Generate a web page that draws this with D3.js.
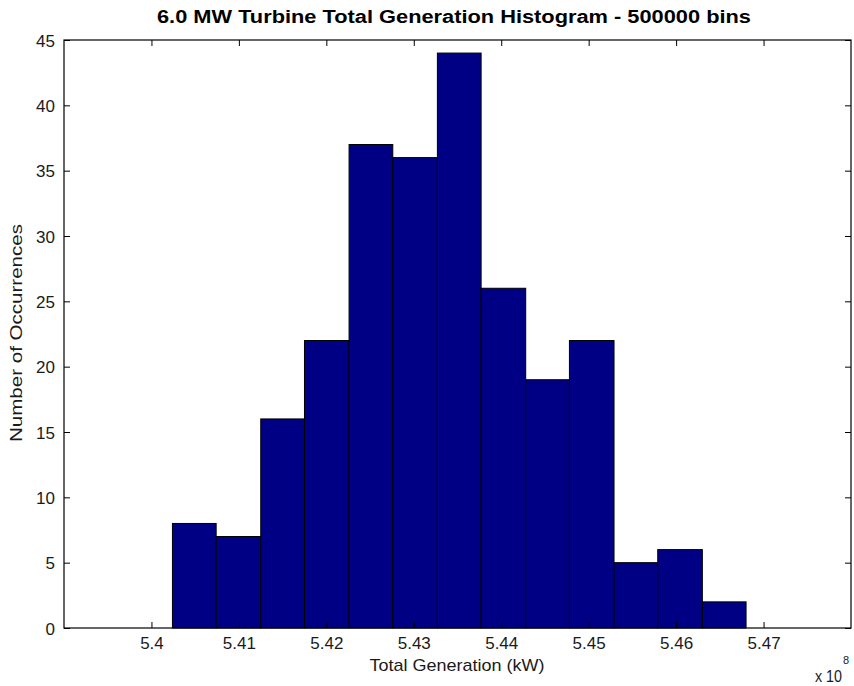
<!DOCTYPE html>
<html><head><meta charset="utf-8">
<script src="https://cdn.jsdelivr.net/npm/d3@7"></script>
<style>body{margin:0;background:#fff}svg{display:block}text{font-family:"Liberation Sans",Arial,sans-serif}</style>
</head><body>
<script>
const binEdges = [5.4024e8, 5.4074e8, 5.4125e8, 5.4175e8, 5.4226e8, 5.4276e8, 5.4327e8, 5.4377e8, 5.4428e8, 5.4478e8, 5.4529e8, 5.4579e8, 5.4630e8, 5.4680e8];
const counts = [8, 7, 16, 22, 37, 36, 44, 26, 19, 22, 5, 6, 2];
const xTicks = [5.40e8, 5.41e8, 5.42e8, 5.43e8, 5.44e8, 5.45e8, 5.46e8, 5.47e8];
const yTicks = [0, 5, 10, 15, 20, 25, 30, 35, 40, 45];
const titleText = "6.0 MW Turbine Total Generation Histogram - 500000 bins";
const xLabel = "Total Generation (kW)";
const yLabel = "Number of Occurrences";

const W = 854, H = 686;
const m = {left: 64, right: 3, top: 40, bottom: 58};
const svg = d3.select("body").append("svg").attr("width", W).attr("height", H);
const x = d3.scaleLinear().domain([5.39e8, 5.48e8]).range([m.left, W - m.right]);
const y = d3.scaleLinear().domain([0, 45]).range([H - m.bottom, m.top]);

const bins = counts.map((c, i) => ({x0: binEdges[i], x1: binEdges[i + 1], c}));
svg.append("g").selectAll("rect").data(bins).join("rect")
  .attr("x", d => x(d.x0)).attr("width", d => x(d.x1) - x(d.x0))
  .attr("y", d => y(d.c)).attr("height", d => y(0) - y(d.c))
  .attr("fill", "#000085").attr("stroke", "#000").attr("stroke-width", 1);

const fmtX = d => String(+(d / 1e8).toFixed(2));
const tl = 6;
const gx = svg.append("g").attr("transform", `translate(0,${y(0)})`)
  .call(d3.axisBottom(x).tickValues(xTicks).tickFormat(fmtX).tickSizeInner(-tl).tickSizeOuter(0));
const gxt = svg.append("g").attr("transform", `translate(0,${y(45)})`)
  .call(d3.axisTop(x).tickValues(xTicks).tickFormat("").tickSizeInner(-tl).tickSizeOuter(0));
const gy = svg.append("g").attr("transform", `translate(${x(5.39e8)},0)`)
  .call(d3.axisLeft(y).tickValues(yTicks).tickSizeInner(-tl).tickSizeOuter(0).tickPadding(9));
const gyr = svg.append("g").attr("transform", `translate(${x(5.48e8)},0)`)
  .call(d3.axisRight(y).tickValues(yTicks).tickFormat("").tickSizeInner(-tl).tickSizeOuter(0));
[gx, gxt, gy, gyr].forEach(g => {
  g.select(".domain").remove();
  g.selectAll("line").attr("stroke", "#000");
  g.selectAll("text").attr("font-size", 17).attr("fill", "#1a1a1a").attr("font-family", '"Liberation Sans",Arial,sans-serif');
});
gx.selectAll("text").attr("y", 21).attr("dy", 0);
gy.selectAll("text").attr("dy", "0.36em");

svg.append("rect").attr("x", x(5.39e8)).attr("y", y(45)).attr("width", x(5.48e8) - x(5.39e8)).attr("height", y(0) - y(45))
  .attr("fill", "none").attr("stroke", "#000").attr("stroke-width", 1.2);

svg.append("text").attr("x", 454).attr("y", 23).attr("text-anchor", "middle")
  .attr("font-size", 18).attr("font-weight", "bold").attr("fill", "#000").text(titleText)
  .attr("textLength", 594).attr("lengthAdjust", "spacingAndGlyphs");
svg.append("text").attr("x", 457).attr("y", 671).attr("text-anchor", "middle")
  .attr("font-size", 17).attr("fill", "#1a1a1a").text(xLabel)
  .attr("textLength", 175).attr("lengthAdjust", "spacingAndGlyphs");
svg.append("text").attr("transform", `translate(22,333) rotate(-90)`).attr("text-anchor", "middle")
  .attr("font-size", 17).attr("fill", "#1a1a1a").text(yLabel)
  .attr("textLength", 218).attr("lengthAdjust", "spacingAndGlyphs");
svg.append("text").attr("x", 815).attr("y", 682).attr("font-size", 16).attr("fill", "#1a1a1a")
  .text("x 10").attr("textLength", 27).attr("lengthAdjust", "spacingAndGlyphs");
svg.append("text").attr("x", 843).attr("y", 664).attr("font-size", 11).attr("fill", "#1a1a1a").text("8");
</script>
</body></html>
